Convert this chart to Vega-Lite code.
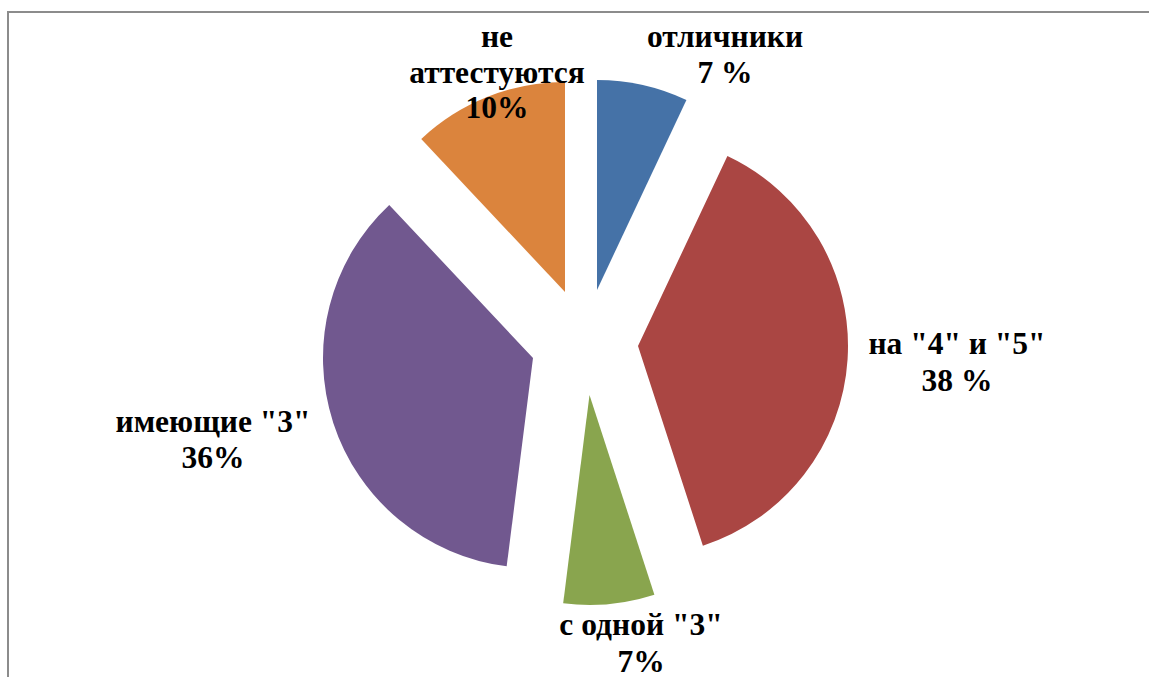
{
  "$schema": "https://vega.github.io/schema/vega-lite/v6.json",
  "width": 1161,
  "height": 685,
  "autosize": {"type": "none"},
  "padding": {"left": 8, "top": 12, "right": -20, "bottom": -20},
  "background": "white",
  "view": {"stroke": "#8c8c8c", "strokeWidth": 2, "fill": "white"},
  "data": {
    "values": [
      {"cat": "отличники", "value": 7, "label": "отличники\n7 %"},
      {"cat": "на 4 и 5", "value": 38, "label": "на \"4\" и \"5\"\n38 %"},
      {"cat": "с одной 3", "value": 7, "label": "с одной \"3\"\n7%"},
      {"cat": "имеющие 3", "value": 36, "label": "имеющие \"3\"\n36%"},
      {"cat": "не аттестуются", "value": 12, "label": "не\nаттестуются\n10%"}
    ]
  },
  "transform": [{"stack": "value", "groupby": [], "as": ["v0", "v1"]}],
  "config": {
    "arc": {"radius": 210}
  },
  "layer": [
    {
      "transform": [{"filter": "datum.cat == 'отличники'"}],
      "layer": [
        {"mark": {"type": "arc", "xOffset": 8.5, "yOffset": -64.5, "color": "#4572A7"},
         "encoding": {"theta": {"field": "v0", "type": "quantitative", "scale": {"domain": [0, 100]}}, "theta2": {"field": "v1"}}},
        {"mark": {"type": "text", "xOffset": 136.5, "yOffset": -307.5, "font": "Liberation Serif", "fontWeight": "bold", "fontSize": 31.5, "lineHeight": 35.5, "align": "center", "baseline": "alphabetic", "color": "black", "lineBreak": "\n"}, "encoding": {"text": {"field": "label"}}}
      ]
    },
    {
      "transform": [{"filter": "datum.cat == 'на 4 и 5'"}],
      "layer": [
        {"mark": {"type": "arc", "xOffset": 49.5, "yOffset": -8.5, "color": "#AA4643"},
         "encoding": {"theta": {"field": "v0", "type": "quantitative", "scale": {"domain": [0, 100]}}, "theta2": {"field": "v1"}}},
        {"mark": {"type": "text", "xOffset": 368.5, "yOffset": -0.5, "font": "Liberation Serif", "fontWeight": "bold", "fontSize": 31.5, "lineHeight": 36.5, "align": "center", "baseline": "alphabetic", "color": "black", "lineBreak": "\n"}, "encoding": {"text": {"field": "label"}}}
      ]
    },
    {
      "transform": [{"filter": "datum.cat == 'с одной 3'"}],
      "layer": [
        {"mark": {"type": "arc", "xOffset": 1, "yOffset": 40.5, "color": "#89A54E"},
         "encoding": {"theta": {"field": "v0", "type": "quantitative", "scale": {"domain": [0, 100]}}, "theta2": {"field": "v1"}}},
        {"mark": {"type": "text", "xOffset": 52.5, "yOffset": 280.5, "font": "Liberation Serif", "fontWeight": "bold", "fontSize": 31.5, "lineHeight": 36.5, "align": "center", "baseline": "alphabetic", "color": "black", "lineBreak": "\n"}, "encoding": {"text": {"field": "label"}}}
      ]
    },
    {
      "transform": [{"filter": "datum.cat == 'имеющие 3'"}],
      "layer": [
        {"mark": {"type": "arc", "xOffset": -55.5, "yOffset": 3.5, "color": "#71588F"},
         "encoding": {"theta": {"field": "v0", "type": "quantitative", "scale": {"domain": [0, 100]}}, "theta2": {"field": "v1"}}},
        {"mark": {"type": "text", "xOffset": -375.5, "yOffset": 77.5, "font": "Liberation Serif", "fontWeight": "bold", "fontSize": 31.5, "lineHeight": 35.5, "align": "center", "baseline": "alphabetic", "color": "black", "lineBreak": "\n"}, "encoding": {"text": {"field": "label"}}}
      ]
    },
    {
      "transform": [{"filter": "datum.cat == 'не аттестуются'"}],
      "layer": [
        {"mark": {"type": "arc", "xOffset": -23.5, "yOffset": -62.5, "color": "#DB843D"},
         "encoding": {"theta": {"field": "v0", "type": "quantitative", "scale": {"domain": [0, 100]}}, "theta2": {"field": "v1"}}},
        {"mark": {"type": "text", "xOffset": -91.5, "yOffset": -307.5, "font": "Liberation Serif", "fontWeight": "bold", "fontSize": 31.5, "lineHeight": 35.5, "align": "center", "baseline": "alphabetic", "color": "black", "lineBreak": "\n"}, "encoding": {"text": {"field": "label"}}}
      ]
    }
  ]
}
